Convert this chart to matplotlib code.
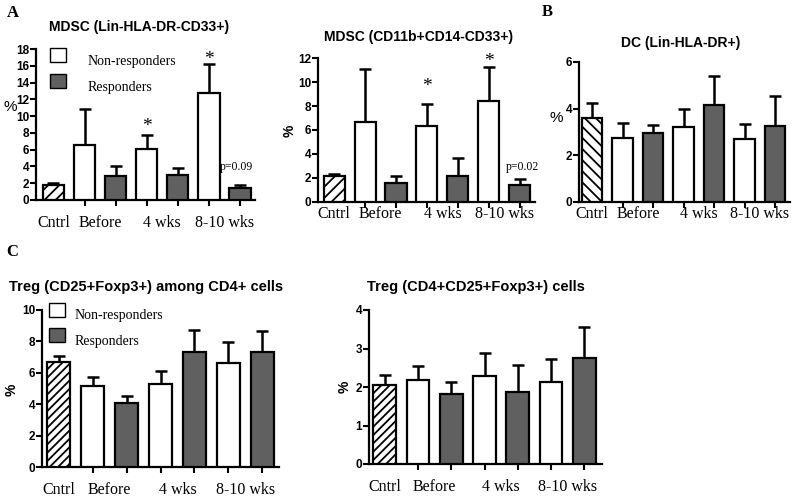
import matplotlib
matplotlib.use("Agg")
import matplotlib.pyplot as plt
from matplotlib.patches import Rectangle
import numpy as np

W, H = 800, 500
SANS = "Liberation Sans"
SERIF = "Liberation Serif"
GRAY = "#606060"

groups = ["Cntrl", "Before", "4 wks", "8-10 wks"]
series = ["Non-responders", "Responders"]
# bar order: Cntrl, Before NR, Before R, 4wk NR, 4wk R, 8-10 NR, 8-10 R
bar_kind = ["cntrl", "nr", "r", "nr", "r", "nr", "r"]

mdsc1_mean = [1.8, 6.6, 2.9, 6.1, 3.0, 12.7, 1.4]
mdsc1_sem = [0.2, 4.2, 1.1, 1.6, 0.8, 3.5, 0.4]
mdsc2_mean = [2.15, 6.65, 1.6, 6.35, 2.2, 8.45, 1.4]
mdsc2_sem = [0.2, 4.45, 0.55, 1.85, 1.5, 2.8, 0.5]
dc_mean = [3.6, 2.75, 2.95, 3.2, 4.15, 2.7, 3.25]
dc_sem = [0.65, 0.65, 0.35, 0.8, 1.25, 0.65, 1.3]
treg1_mean = [6.7, 5.15, 4.05, 5.3, 7.3, 6.65, 7.35]
treg1_sem = [0.35, 0.6, 0.5, 0.8, 1.45, 1.3, 1.3]
treg2_mean = [2.05, 2.17, 1.83, 2.28, 1.87, 2.12, 2.75]
treg2_sem = [0.25, 0.38, 0.3, 0.6, 0.71, 0.6, 0.8]

plt.rcParams["hatch.linewidth"] = 1.3
fig = plt.figure(figsize=(8, 5), dpi=100)


def add_ax(x0, x1, ytop, ybot):
    return fig.add_axes([x0 / W, 1 - ybot / H, (x1 - x0) / W, (ybot - ytop) / H])


def panel(ax, means, sems, ylim, yticks, xlim, hatch, labpad):
    x = np.arange(len(means))
    for i, (m, k) in enumerate(zip(means, bar_kind)):
        if k == "cntrl":
            ax.bar(x[i], m, width=0.68, color="white", edgecolor="black",
                   linewidth=1.6, hatch=hatch, zorder=3)
        else:
            ax.bar(x[i], m, width=0.68, color="white" if k == "nr" else GRAY,
                   edgecolor="black", linewidth=1.6, zorder=3)
    ax.errorbar(x, means, yerr=[np.zeros(len(means)), sems], fmt="none",
                ecolor="black", elinewidth=1.8, capsize=4.5, capthick=1.8, zorder=2)
    ax.set_ylim(*ylim)
    ax.set_xlim(*xlim)
    ax.set_yticks(yticks)
    ax.set_yticklabels([str(t) for t in yticks], fontfamily=SANS,
                       fontweight="bold", fontsize=8.5)
    ax.set_xticks([0, 1.5, 3.5, 5.5])
    ax.set_xticklabels(groups, fontfamily=SERIF, fontsize=11.5)
    ax.set_xticks(x, minor=True)
    ax.tick_params(axis="x", which="major", length=0, pad=labpad)
    ax.tick_params(axis="x", which="minor", length=4, width=1.5)
    ax.tick_params(axis="y", length=4, width=1.5, pad=1)
    for s in ["top", "right"]:
        ax.spines[s].set_visible(False)
    for s in ["left", "bottom"]:
        ax.spines[s].set_linewidth(1.6)
    ax.patch.set_alpha(0)


def legend(x, y1, y2, tx, ty1, ty2, fs):
    for yy, col in [(y1, "white"), (y2, GRAY)]:
        fig.add_artist(Rectangle((x / W, 1 - (yy + 14) / H), 16 / W, 14 / H,
                                 facecolor=col, edgecolor="black", linewidth=1.0,
                                 transform=fig.transFigure))
    fig.text(tx / W, 1 - ty1 / H, series[0], fontfamily=SERIF, fontsize=fs, va="center")
    fig.text(tx / W, 1 - ty2 / H, series[1], fontfamily=SERIF, fontsize=fs, va="center")


# Panel A1
a1 = add_ax(36, 255, 49, 200)
panel(a1, mdsc1_mean, mdsc1_sem, (0, 18), list(range(0, 19, 2)), (-0.56, 6.48), "///", 11)
a1.text(3, 8.8, "*", fontfamily=SERIF, fontsize=14, ha="center", va="center")
a1.text(5, 16.7, "*", fontfamily=SERIF, fontsize=14, ha="center", va="center")
a1.text(5.88, 3.9, "p=0.09", fontfamily=SERIF, fontsize=8.5, ha="center", va="center")
fig.text(10 / W, 1 - 107 / H, "%", fontfamily=SANS, fontsize=11, ha="center", va="center")
fig.text(139 / W, 1 - 27 / H, "MDSC (Lin-HLA-DR-CD33+)", fontfamily=SANS,
         fontweight="bold", fontsize=10, ha="center", va="center")
legend(50, 48, 74, 88, 61, 88, 10)

# Panel A2
a2 = add_ax(318, 535, 58, 202)
panel(a2, mdsc2_mean, mdsc2_sem, (0, 12), list(range(0, 13, 2)), (-0.52, 6.49), "///", 3)
a2.text(3, 9.6, "*", fontfamily=SERIF, fontsize=14, ha="center", va="center")
a2.text(5, 11.75, "*", fontfamily=SERIF, fontsize=14, ha="center", va="center")
a2.text(6.08, 2.9, "p=0.02", fontfamily=SERIF, fontsize=8.5, ha="center", va="center")
fig.text(290 / W, 1 - 131 / H, "%", fontfamily=SANS, fontweight="bold", fontsize=10,
         rotation=90, ha="center", va="center")
fig.text(419 / W, 1 - 37 / H, "MDSC (CD11b+CD14-CD33+)", fontfamily=SANS,
         fontweight="bold", fontsize=10, ha="center", va="center")

# Panel B
b = add_ax(579, 790, 62, 202)
panel(b, dc_mean, dc_sem, (0, 6), [0, 2, 4, 6], (-0.43, 6.49), "\\\\\\", 3)
fig.text(556 / W, 1 - 118 / H, "%", fontfamily=SANS, fontsize=11, ha="center", va="center")
fig.text(681 / W, 1 - 43 / H, "DC (Lin-HLA-DR+)", fontfamily=SANS,
         fontweight="bold", fontsize=10, ha="center", va="center")

# Panel C1
c1 = add_ax(42, 279, 310, 467)
panel(c1, treg1_mean, treg1_sem, (0, 10), list(range(0, 11, 2)), (-0.5, 6.5), "////", 11)
fig.text(12 / W, 1 - 390 / H, "%", fontfamily=SANS, fontweight="bold", fontsize=10,
         rotation=90, ha="center", va="center")
fig.text(146 / W, 1 - 287 / H, "Treg (CD25+Foxp3+) among CD4+ cells", fontfamily=SANS,
         fontweight="bold", fontsize=10.5, ha="center", va="center")
legend(49, 303, 328, 75, 316, 342, 10)

# Panel C2
c2 = add_ax(369, 602, 310, 464)
panel(c2, treg2_mean, treg2_sem, (0, 4), [0, 1, 2, 3, 4], (-0.47, 6.53), "////", 11)
fig.text(345 / W, 1 - 387 / H, "%", fontfamily=SANS, fontweight="bold", fontsize=10,
         rotation=90, ha="center", va="center")
fig.text(476 / W, 1 - 287 / H, "Treg (CD4+CD25+Foxp3+) cells", fontfamily=SANS,
         fontweight="bold", fontsize=10.5, ha="center", va="center")

# panel letters
for lx, ly, lt in [(13, 13, "A"), (547, 12, "B"), (12, 252, "C")]:
    fig.text(lx / W, 1 - ly / H, lt, fontfamily=SERIF, fontweight="bold", fontsize=12,
             ha="center", va="center")

fig.savefig("out.png", dpi=100)
